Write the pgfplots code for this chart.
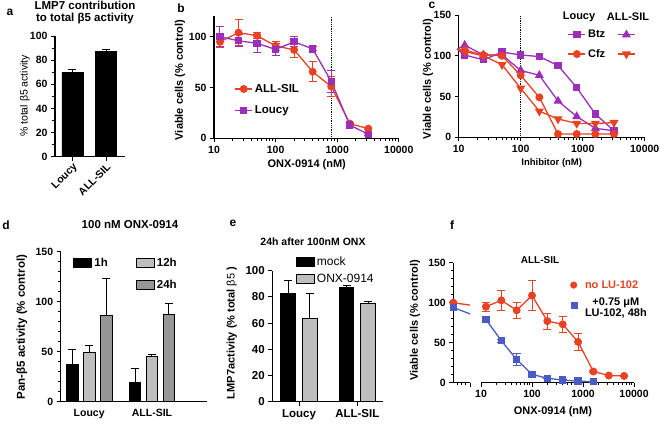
\documentclass[border=0pt]{standalone}
\usepackage{fontspec}
\setmainfont{Liberation Sans}
\usepackage{pgfplots}
\pgfplotsset{compat=1.18}
\definecolor{fred}{RGB}{233,66,35}
\definecolor{fpurple}{RGB}{155,48,184}
\definecolor{fblue}{RGB}{74,92,196}
\definecolor{lgray}{RGB}{190,190,190}
\definecolor{mgray}{RGB}{150,150,150}
\newcommand{\fs}[1]{\fontsize{#1}{#1}\selectfont}
\pgfplotsset{
  gp/.style={scale only axis, anchor=south west,
    axis x line*=bottom, axis y line*=left,
    axis line style={line width=1.1pt, black},
    every tick/.style={black, line width=1pt},
    major tick length=4pt, minor tick length=2.5pt, tick align=outside,
    tick label style={font=\fs{10.5}\bfseries},
    /pgf/number format/assume math mode=true,
    label style={font=\fs{11}\bfseries},
    legend style={draw=none, fill=none, font=\fs{11}\bfseries, inner sep=0pt, row sep=2pt},
    legend cell align=left,
  },
  errb/.style={error bars/y dir=both, error bars/y explicit,
    error bars/error bar style={line width=1pt},
    error bars/error mark options={rotate=90, mark size=4pt, line width=1pt}},
  errp/.style={error bars/y dir=plus, error bars/y explicit,
    error bars/error bar style={line width=1pt, black},
    error bars/error mark options={rotate=90, mark size=4pt, line width=1pt, black}},
  barleg/.style={legend image code/.code={\draw[##1, draw=black, line width=1.1pt] (0pt,-4.5pt) rectangle (18pt,4.5pt);}},
  lin/.style={line width=1.3pt},
}
\begin{document}
\begin{tikzpicture}[x=1pt,y=1pt]
\path[use as bounding box] (0,0) rectangle (660,424);

% ---------- panel a ----------
\node[font=\fs{12}\bfseries] at (10,412) {a};
\node[font=\fontsize{11.5}{11.5}\selectfont\bfseries, align=center] at (85,411.5) {LMP7 contribution\\to total β5 activity};
\begin{axis}[gp, at={(55pt,267.3pt)}, width=70pt, height=120.7pt,
  xmin=0.478, xmax=2.567, ymin=0, ymax=100,
  ytick={0,20,40,60,80,100}, minor y tick num=1,
  xtick={1,2}, xticklabels={Loucy,ALL-SIL},
  xticklabel style={rotate=45, anchor=north east, inner sep=1pt},
  ylabel={\% total β5 activity},
  ylabel style={at={(axis description cs:-0.43,0.503)}, anchor=center, font=\fs{10.5}\mdseries}]
\addplot[ybar, bar width=21pt, bar shift=0pt, fill=black, draw=black, errp]
  coordinates {(1,70) +- (0,2.5) (2,87.5) +- (0,1.5)};
\end{axis}

% ---------- panel b ----------
\node[font=\fs{12}\bfseries] at (181,416) {b};
\begin{axis}[gp, at={(214pt,285.7pt)}, width=184.8pt, height=121.9pt,
  xmode=log, xmin=10, xmax=10000, ymin=0, ymax=120, clip=false,
  xtick={10,100,1000,10000}, xticklabels={10,100,1000,10000}, minor xtick={},
  ytick={0,50,100},
  xlabel={ONX-0914 (nM)}, ylabel={Viable cells (\% control)},
  xlabel style={at={(axis description cs:0.502,-0.219)}, anchor=center},
  ylabel style={at={(axis description cs:-0.184,0.478)}, anchor=center},
  legend style={at={(axis description cs:0.11,0.462)}, anchor=north west, font=\fs{11.5}\bfseries, row sep=8pt}]
\draw[black, densely dotted, line width=0.8pt] (axis cs:800,0) -- (axis cs:800,120);
\addplot[color=fred, lin, mark=*, mark size=3.3pt, errb] coordinates {
 (12.5,95) +- (0,5.5) (25,104) +- (0,13) (50,101) +- (0,3) (100,91) +- (0,4.5)
 (200,87) +- (0,7) (400,65.5) +- (0,10) (800,51) +- (0,10) (1600,14.5) +- (0,1.5) (3200,9.5) +- (0,1)};
\addlegendentry{ALL-SIL}
\addplot[color=fpurple, lin, mark=square*, mark size=3pt, errb] coordinates {
 (12.5,100) +- (0,10) (25,96) +- (0,6) (50,93.5) +- (0,9) (100,87.5) +- (0,6)
 (200,95) +- (0,5) (400,88) +- (0,2) (800,56) +- (0,11) (1600,13) +- (0,1.5) (3200,4) +- (0,1)};
\addlegendentry{Loucy}
\end{axis}

% ---------- panel c ----------
\node[font=\fs{12}\bfseries] at (432,419) {c};
\node[font=\fs{11}\bfseries] at (579,407) {Loucy};
\node[font=\fs{11}\bfseries] at (628,407) {ALL-SIL};
\begin{axis}[gp, at={(458.7pt,286.7pt)}, width=186pt, height=122.3pt,
  xmode=log, xmin=10, xmax=10000, ymin=0, ymax=150, clip=false,
  xtick={10,100,1000,10000}, xticklabels={10,100,1000,10000},
  minor xtick={20,30,40,50,60,70,80,90,200,300,400,500,600,700,800,900,2000,3000,4000,5000,6000,7000,8000,9000},
  ytick={0,50,100,150},
  xlabel={Inhibitor (nM)}, ylabel={Viable cells (\% control)},
  xlabel style={at={(axis description cs:0.5,-0.21)}, anchor=center, font=\fs{9.5}\bfseries},
  ylabel style={at={(axis description cs:-0.165,0.477)}, anchor=center},
  legend columns=2,
  legend style={at={(axis description cs:0.585,0.893)}, anchor=north west, font=\fs{11}\bfseries, row sep=6pt,
    /tikz/every even column/.append style={column sep=10pt}}]
\draw[black, densely dotted, line width=0.8pt] (axis cs:100,0) -- (axis cs:100,150);
\addplot[color=fpurple, lin, mark=square*, mark size=3pt, mark phase=2, mark repeat=1] coordinates {
 (9.4,108) (12.5,101) (25,95) (50,104.5) (100,101) (200,99) (400,88) (800,61) (1600,28.5) (3200,8)};
\addlegendentry{Btz}
\addplot[color=fpurple, lin, mark=triangle*, mark size=4pt, mark phase=2, mark repeat=1] coordinates {
 (9.4,108) (12.5,113) (25,101) (50,101) (100,82) (200,76) (400,44.5) (800,25.5) (1600,11) (3200,8)};
\addlegendentry{}
\addplot[color=fred, lin, mark=*, mark size=3.3pt, mark phase=2, mark repeat=1] coordinates {
 (9.4,108) (12.5,107) (25,101) (50,100) (100,76) (200,49) (400,4) (800,4) (1600,4) (3200,4)};
\addlegendentry{Cfz}
\addplot[color=fred, lin, mark=triangle*, mark size=4pt, mark options={rotate=180}, mark phase=2, mark repeat=1] coordinates {
 (9.4,108) (12.5,105) (25,100) (50,89) (100,60) (200,32) (400,22.5) (800,17) (1600,17) (3200,18)};
\addlegendentry{}
\end{axis}

% ---------- panel d ----------
\node[font=\fs{12}\bfseries] at (6,199) {d};
\node[font=\fs{11.5}\bfseries] at (130,199) {100 nM ONX-0914};
\begin{axis}[gp, at={(60.7pt,22.3pt)}, width=146.3pt, height=150pt,
  xmin=0.546, xmax=2.876, ymin=0, ymax=150,
  ytick={0,50,100,150}, minor y tick num=4,
  xtick={1,2}, xticklabels={Loucy,ALL-SIL}, xtick style={draw=none},
  ylabel={Pan-β5 activity (\% control)},
  ylabel style={at={(axis description cs:-0.265,0.498)}, anchor=center, font=\fs{11.5}\bfseries},
  legend columns=2, barleg,
  legend style={at={(axis description cs:0.085,0.973)}, anchor=north west, font=\fs{11.5}\bfseries, row sep=8pt,
    /tikz/every even column/.append style={column sep=26pt}}]
\addplot[ybar, bar width=11.7pt, bar shift=0pt, fill=black, draw=black, line width=1.1pt, errp]
  coordinates {(0.7293,37.5) +- (0,15) (1.7293,19) +- (0,14.5)};
\addlegendentry{1h}
\addplot[ybar, bar width=11.7pt, bar shift=0pt, fill=lgray, draw=black, line width=1.1pt, errp]
  coordinates {(1,49) +- (0,7) (2,45.5) +- (0,1.8)};
\addlegendentry{12h}
\addlegendimage{empty legend}
\addlegendentry{}
\addplot[ybar, bar width=11.7pt, bar shift=0pt, fill=mgray, draw=black, line width=1.1pt, errp]
  coordinates {(1.2707,86.5) +- (0,36.5) (2.2707,87.5) +- (0,11)};
\addlegendentry{24h}
\end{axis}

% ---------- panel e ----------
\node[font=\fs{12}\bfseries] at (233,201) {e};
\node[font=\fs{10.5}\bfseries] at (313,182) {24h after 100nM ONX};
\begin{axis}[gp, at={(272.3pt,22.3pt)}, width=111pt, height=131pt,
  xmin=0.542, xmax=2.446, ymin=0, ymax=100,
  ytick={0,20,40,60,80,100},
  tick label style={font=\fs{11.5}\bfseries},
  xtick={1,2}, xticklabels={Loucy,ALL-SIL},
  ylabel={LMP7activity (\% total {\mdseries β5} )},
  ylabel style={at={(axis description cs:-0.366,0.524)}, anchor=center, font=\fs{11}\bfseries},
  barleg,
  legend style={at={(axis description cs:0.21,1.125)}, anchor=north west, font=\fs{12}\mdseries, row sep=3pt}]
\addplot[ybar, bar width=14.5pt, bar shift=0pt, fill=black, draw=black, line width=1.1pt, errp]
  coordinates {(0.8148,82.5) +- (0,10) (1.8148,87) +- (0,1.8)};
\addlegendentry{mock}
\addplot[ybar, bar width=14.5pt, bar shift=0pt, fill=lgray, draw=black, line width=1.1pt, errp]
  coordinates {(1.1852,63.5) +- (0,19) (2.1852,75) +- (0,1.8)};
\addlegendentry{ONX-0914}
\end{axis}

% ---------- panel f ----------
\node[font=\fs{12}\bfseries] at (452,199) {f};
\node[font=\fs{10}\bfseries] at (540,164) {ALL-SIL};
\begin{axis}[gp, at={(453.3pt,41.3pt)}, width=16.7pt, height=120pt,
  xmin=0, xmax=1, ymin=0, ymax=150, clip=false,
  xtick={1}, xticklabels={}, minor xtick={0.25,0.5,0.75},
  ytick={0,50,100,150}, minor y tick num=4,
  ylabel={Viable cells (\% control)},
  ylabel style={at={(axis description cs:-2.29,0.52)}, anchor=center}]
\addplot[color=fred, lin, mark=*, mark size=3.3pt, mark repeat=2] coordinates {(0,100) (1,97)};
\addplot[color=fblue, lin, mark=square*, mark size=3pt, mark repeat=2] coordinates {(0,94) (1,86)};
\end{axis}
\begin{axis}[gp, at={(481pt,41.3pt)}, width=153pt, height=120pt,
  axis y line=none,
  xmode=log, xmin=10, xmax=10000, ymin=0, ymax=150, clip=false,
  xtick={10,100,1000,10000}, xticklabels={10,100,1000,10000},
  minor xtick={20,30,40,50,60,70,80,90,200,300,400,500,600,700,800,900,2000,3000,4000,5000,6000,7000,8000,9000},
  xlabel={ONX-0914 (nM)},
  xlabel style={at={(axis description cs:0.47,-0.244)}, anchor=center},
  legend style={at={(axis description cs:0.583,0.87)}, anchor=north west, font=\fs{11}\bfseries, row sep=4pt,
    /tikz/every odd column/.append style={column sep=6pt}}]
\addplot[color=fred, lin, mark=*, mark size=3.3pt, errb, forget plot] coordinates {
 (12.5,95) +- (0,5.5) (25,103) +- (0,12.5) (50,90.5) +- (0,10) (100,109) +- (0,18.5)
 (200,77) +- (0,10) (400,73) +- (0,10) (800,51) +- (0,11) (1600,14) +- (0,1) (3200,9) +- (0,0.5) (6400,8.5) +- (0,0.5)};
\addplot[color=fblue, lin, mark=square*, mark size=3pt, errb, forget plot] coordinates {
 (12.5,79) +- (0,1) (25,52.5) +- (0,2) (50,29) +- (0,7.3) (100,10.5) +- (0,1) (200,5.5) +- (0,0.5)
 (400,3.3) +- (0,0.5) (800,2) +- (0,0.5) (1600,1.3) +- (0,0.5)};
\addlegendimage{only marks, mark=*, mark size=3.3pt, color=fred}
\addlegendentry{\textcolor{fred}{no LU-102}}
\addlegendimage{only marks, mark=square*, mark size=3pt, color=fblue}
\addlegendentry{\begin{tabular}{@{}c@{}}+0.75 μM\\LU-102, 48h\end{tabular}}
\end{axis}
\end{tikzpicture}
\end{document}
